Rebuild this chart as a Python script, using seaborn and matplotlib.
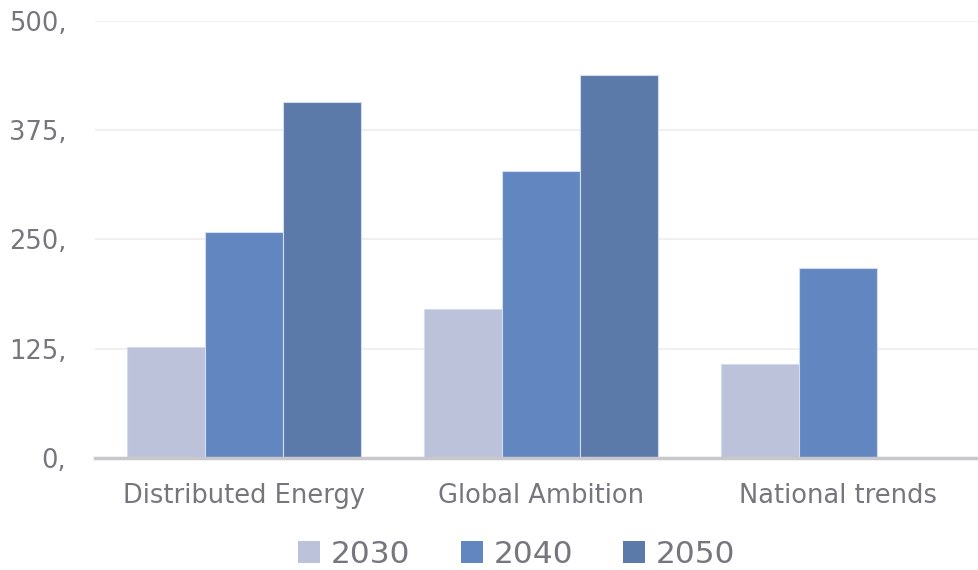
import matplotlib
matplotlib.use("Agg")
import matplotlib.pyplot as plt
import seaborn as sns
import pandas as pd
import numpy as np
from matplotlib.patches import Patch

categories = ["Distributed Energy", "Global Ambition", "National trends"]
years = ["2030", "2040", "2050"]
v2030 = [127, 170, 107]
v2040 = [259, 328, 217]
v2050 = [407, 438, np.nan]
yticks = [0, 125, 250, 375, 500]
ytick_labels = ["0,", "125,", "250,", "375,", "500,"]
colors = ["#BCC2DA", "#6287C0", "#5B7AAA"]

rows = []
for yr, vals in zip(years, [v2030, v2040, v2050]):
    for c, v in zip(categories, vals):
        rows.append({"category": c, "year": yr, "value": v})
df = pd.DataFrame(rows)

sns.set_theme(style="white")
plt.rcParams['font.family'] = ['DejaVu Sans']
text_color = "#76767F"

fig = plt.figure(figsize=(9.79, 5.70), dpi=100)
ax = fig.add_axes([95.5 / 979, 112 / 570, 891 / 979, 437 / 570])

sns.barplot(data=df, x="category", y="value", hue="year", palette=colors,
            width=0.79, ax=ax, edgecolor="#D3DBEE", linewidth=0.8,
            saturation=1, legend=False)

ax.set_ylim(0, 500)
ax.set_xlim(-0.5, 2.5)
ax.set_yticks(yticks)
ax.set_yticklabels(ytick_labels)
ax.yaxis.grid(True, color="#F0F0F0", linewidth=1.5)
ax.set_axisbelow(True)
for s in ["top", "right", "left"]:
    ax.spines[s].set_visible(False)
ax.spines["bottom"].set_color("#C8C8CC")
ax.spines["bottom"].set_linewidth(2.5)
ax.set_xlabel("")
ax.set_ylabel("")
ax.tick_params(axis="both", length=0, colors=text_color, labelsize=18.5)
ax.tick_params(axis="x", pad=18)
ax.tick_params(axis="y", pad=21)

handles = [Patch(facecolor=c, edgecolor="none") for c in colors]
leg = fig.legend(handles, years, loc="center", bbox_to_anchor=(0.528, 0.028),
                 ncol=3, frameon=False, fontsize=22.5, handlelength=0.7,
                 handleheight=0.7, handletextpad=0.35, columnspacing=1.6)
for t in leg.get_texts():
    t.set_color(text_color)

fig.savefig("out.png", dpi=100)
